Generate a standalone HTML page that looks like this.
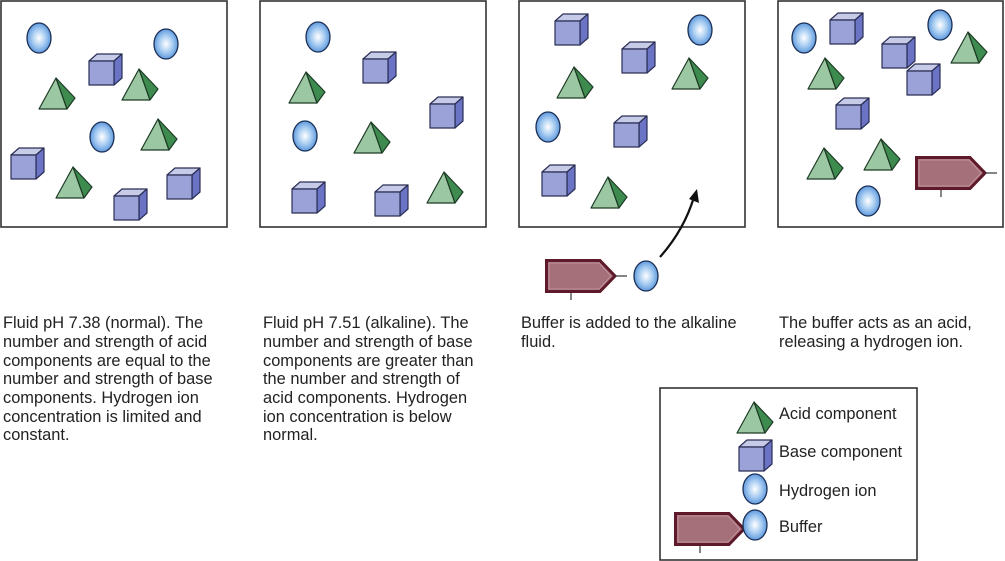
<!DOCTYPE html>
<html><head><style>
body{margin:0;background:#fff;}
svg{display:block;}
text{font-family:"Liberation Sans",Arial,sans-serif;font-size:16.4px;fill:#222;}
</style></head><body>
<svg width="1005" height="561" viewBox="0 0 1005 561" xmlns="http://www.w3.org/2000/svg">
<defs>
<radialGradient id="g" cx="0.5" cy="0.5" r="0.55">
<stop offset="0" stop-color="#ffffff"/><stop offset="0.5" stop-color="#a9cdf2"/><stop offset="1" stop-color="#4f8fd9"/>
</radialGradient>
<g id="cube" stroke="#2a2f55" stroke-width="1.2" stroke-linejoin="round">
<path d="M0 7 L8 0 L33 0 L25 7 Z" fill="#c7cbe8"/>
<path d="M25 7 L33 0 L33 24 L25 31 Z" fill="#6b74c4"/>
<rect x="0" y="7" width="25" height="24" fill="#9aa2d8"/>
</g>
<g id="pyr" stroke="#1d3b25" stroke-width="1.2" stroke-linejoin="round">
<path d="M0 0 L-17 31 L11 31 Z" fill="#9cc7a3"/>
<path d="M0 0 L11 31 L19 20 Z" fill="#3e8b4f"/>
</g>
<g id="ion"><ellipse cx="0" cy="0" rx="12" ry="15" fill="url(#g)" stroke="#1c2f55" stroke-width="1.3"/></g>
<g id="buf">
<path d="M1.5 1.5 L55 1.5 L70 17 L55 32.5 L1.5 32.5 Z" fill="#a6707a" stroke="#5e1a2a" stroke-width="3"/>
<path d="M4 4 L54 4 L66 17 L54 30 L4 30 Z" fill="none" stroke="#c79aa2" stroke-width="0.8"/>
<line x1="26" y1="34" x2="26" y2="41" stroke="#333" stroke-width="1.2"/>
<line x1="70" y1="17" x2="82" y2="17" stroke="#333" stroke-width="1.2"/>
</g>
</defs>
<g fill="none" stroke="#333" stroke-width="1.6">
<rect x="1" y="1" width="226" height="226"/>
<rect x="260" y="1" width="226" height="226"/>
<rect x="519" y="1" width="226" height="226"/>
<rect x="778" y="1" width="225" height="226"/>
<rect x="660" y="388" width="257" height="172"/>
</g>
<use href="#ion" x="39" y="38"/><use href="#ion" x="166" y="44"/><use href="#ion" x="102" y="137"/>
<use href="#cube" x="89" y="54"/><use href="#cube" x="11" y="148"/><use href="#cube" x="114" y="189"/><use href="#cube" x="167" y="168"/>
<use href="#pyr" x="56" y="78"/><use href="#pyr" x="139" y="69"/><use href="#pyr" x="158" y="119"/><use href="#pyr" x="73" y="167"/>
<use href="#ion" x="318" y="37"/><use href="#ion" x="305" y="136"/>
<use href="#cube" x="363" y="52"/><use href="#cube" x="430" y="97"/><use href="#cube" x="292" y="182"/><use href="#cube" x="375" y="185"/>
<use href="#pyr" x="306" y="72"/><use href="#pyr" x="371" y="122"/><use href="#pyr" x="444" y="172"/>
<use href="#ion" x="700" y="30"/><use href="#ion" x="548" y="127"/>
<use href="#cube" x="555" y="14"/><use href="#cube" x="622" y="42"/><use href="#cube" x="614" y="116"/><use href="#cube" x="542" y="165"/>
<use href="#pyr" x="574" y="67"/><use href="#pyr" x="689" y="58"/><use href="#pyr" x="608" y="177"/>
<use href="#ion" x="804" y="38"/><use href="#ion" x="940" y="25"/><use href="#ion" x="868" y="201"/>
<use href="#cube" x="830" y="13"/><use href="#cube" x="882" y="37"/><use href="#cube" x="907" y="64"/><use href="#cube" x="836" y="98"/>
<use href="#pyr" x="968" y="32"/><use href="#pyr" x="824" y="148"/><use href="#pyr" x="881" y="139"/><use href="#pyr" x="825" y="58"/>
<use href="#buf" x="915" y="156"/>
<use href="#buf" x="545" y="259"/>
<use href="#ion" x="646" y="276"/>
<path d="M660 257 Q684 230 694 197" fill="none" stroke="#111" stroke-width="2.2"/>
<path d="M697 189 L699 203 L689 199 Z" fill="#111"/>
<text x="3" y="328">Fluid pH 7.38 (normal). The</text>
<text x="3" y="347">number and strength of acid</text>
<text x="3" y="366">components are equal to the</text>
<text x="3" y="384">number and strength of base</text>
<text x="3" y="403">components. Hydrogen ion</text>
<text x="3" y="422">concentration is limited and</text>
<text x="3" y="440">constant.</text>
<text x="263" y="328">Fluid pH 7.51 (alkaline). The</text>
<text x="263" y="347">number and strength of base</text>
<text x="263" y="366">components are greater than</text>
<text x="263" y="384">the number and strength of</text>
<text x="263" y="403">acid components. Hydrogen</text>
<text x="263" y="422">ion concentration is below</text>
<text x="263" y="440">normal.</text>
<text x="521" y="328">Buffer is added to the alkaline</text>
<text x="521" y="347">fluid.</text>
<text x="779" y="328">The buffer acts as an acid,</text>
<text x="779" y="347">releasing a hydrogen ion.</text>
<use href="#pyr" x="754" y="402"/>
<use href="#cube" x="739" y="440"/>
<use href="#ion" x="755" y="489"/>
<use href="#buf" x="674" y="512"/>
<use href="#ion" x="755" y="525"/>
<text x="779" y="419">Acid component</text>
<text x="779" y="457">Base component</text>
<text x="779" y="496">Hydrogen ion</text>
<text x="779" y="532">Buffer</text>
</svg>
</body></html>
